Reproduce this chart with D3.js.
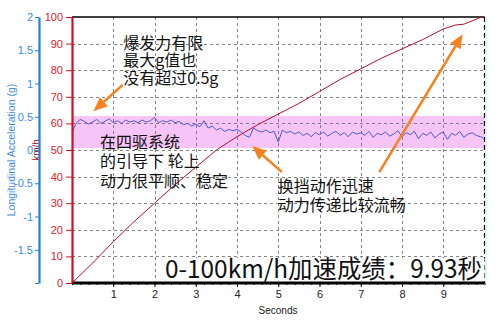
<!DOCTYPE html>
<html><head><meta charset="utf-8">
<script src="https://cdn.jsdelivr.net/npm/d3@7"></script>
<style>html,body{margin:0;padding:0;background:#fff;}svg{display:block;}</style>
</head><body>
<svg id="c" width="500" height="322"></svg>
<script>
// ---- data ----
const speedTime = [0, 0.5, 1.0, 1.5, 2.0, 2.5, 3.0, 3.5, 4.0, 4.5, 5.0, 5.5, 6.0, 6.5, 7.0, 7.5, 8.0, 8.5, 9.0, 9.3, 9.5, 9.93];
const speedKmh  = [0, 7.5, 15.5, 23, 30, 37, 43.5, 50, 55, 59.5, 63.5, 67.5, 72, 76.5, 80.5, 84.5, 88, 91.5, 95.5, 97, 97.3, 100];

const accelTime = [0,0.1,0.2,0.3,0.4,0.5,0.6,0.7,0.8,0.9,1.0,1.1,1.2,1.3,1.4,1.5,1.6,1.7,1.8,1.9,
  2.0,2.1,2.2,2.3,2.4,2.5,2.6,2.7,2.8,2.9,3.0,3.1,3.2,3.3,3.4,3.5,3.6,3.7,3.8,3.9,
  4.0,4.1,4.2,4.3,4.4,4.5,4.6,4.7,4.8,4.9,5.0,5.1,5.2,5.3,5.4,5.5,5.6,5.7,5.8,5.9,
  6.0,6.1,6.2,6.3,6.4,6.5,6.6,6.7,6.8,6.9,7.0,7.1,7.2,7.3,7.4,7.5,7.6,7.7,7.8,7.9,
  8.0,8.1,8.2,8.3,8.4,8.5,8.6,8.7,8.8,8.9,9.0,9.1,9.2,9.3,9.4,9.5,9.6,9.7,9.8,9.9,9.97];
const accelG = [
  0.27,0.40,0.46,0.43,0.39,0.42,0.46,0.40,0.43,0.47,
  0.41,0.44,0.40,0.45,0.42,0.44,0.41,0.45,0.42,0.44,
  0.49,0.41,0.44,0.42,0.45,0.41,0.43,0.38,0.40,0.36,
  0.39,0.35,0.44,0.33,0.36,0.30,0.33,0.28,0.31,0.29,
  0.31,0.27,0.22,0.19,0.33,0.29,0.27,0.30,0.26,0.28,
  0.12,0.30,0.26,0.28,0.24,0.27,0.22,0.25,0.20,0.26,
  0.23,0.27,0.21,0.25,0.28,0.22,0.26,0.20,0.27,0.24,
  0.26,0.22,0.28,0.19,0.25,0.23,0.27,0.21,0.24,0.29,
  0.20,0.26,0.23,0.28,0.17,0.25,0.22,0.27,0.18,0.24,
  0.27,0.16,0.25,0.22,0.28,0.19,0.24,0.26,0.22,0.20,0.18];

const xTicks = [1,2,3,4,5,6,7,8,9];
const kmhTicks = [0,10,20,30,40,50,60,70,80,90,100];
const gTicks = [-1.5,-1,-0.5,0,0.5,1,1.5,2];
const bandG = [0.03, 0.51];

const notes = [
  {lines:["爆发力有限","最大g值也","没有超过0.5g"], t:1.24, kmh:88.0, gap:17.5},
  {lines:["在四驱系统","的引导下 轮上","动力很平顺、稳定"], t:0.68, kmh:50.8, gap:19.5},
  {lines:["换挡动作迅速","动力传递比较流畅"], t:4.99, kmh:34.2, gap:19}
];
const arrows = [
  {from:[1.23, 74.5], to:[0.52, 64.6]},
  {from:[5.09, 41.7], to:[4.37, 51.5]},
  {from:[7.45, 41.7], to:[9.47, 93.5]}
];
const bigText = "0-100km/h加速成绩：9.93秒";

// ---- scales ----
const L = 72, R = 484.5, T = 17, B = 283;
const x = d3.scaleLinear().domain([0,10]).range([L,R]);
const yK = d3.scaleLinear().domain([0,100]).range([B,T]);
const yG = d3.scaleLinear().domain([-2,2]).range([B,T]);

const svg = d3.select("#c");
const latin = "'Liberation Sans', Arial, sans-serif";
const cjk = "'Noto Sans CJK SC', 'Noto Sans', sans-serif";

// band
svg.append("rect").attr("x",L).attr("width",R-L)
  .attr("y",yG(bandG[1])).attr("height",yG(bandG[0])-yG(bandG[1]))
  .attr("fill","#f7c4f7");

// grid
const grid = svg.append("g").attr("stroke","#6f6f6f").attr("stroke-opacity",0.85).attr("stroke-dasharray","3,3").attr("stroke-width",1);
xTicks.forEach(t=>grid.append("line").attr("x1",Math.round(x(t))+0.5).attr("x2",Math.round(x(t))+0.5).attr("y1",T).attr("y2",B));
kmhTicks.filter(v=>v>0&&v<100).forEach(v=>grid.append("line").attr("x1",L).attr("x2",R).attr("y1",Math.round(yK(v))+0.5).attr("y2",Math.round(yK(v))+0.5));

// borders
svg.append("line").attr("x1",L).attr("x2",R).attr("y1",T).attr("y2",T).attr("stroke","#000").attr("stroke-width",1.5);
svg.append("line").attr("x1",R).attr("x2",R).attr("y1",T).attr("y2",B).attr("stroke","#000").attr("stroke-width",1.2).attr("stroke-dasharray","5,3");
svg.append("line").attr("x1",R+1.5).attr("x2",R+1.5).attr("y1",T).attr("y2",B-3).attr("stroke","#bff0ee").attr("stroke-width",1);

// series
const lineA = d3.line().x((d,i)=>x(accelTime[i])).y(d=>yG(d));
svg.append("path").attr("d",lineA(accelG)).attr("fill","none").attr("stroke","#4a5ad2").attr("stroke-width",1);
const lineS = d3.line().x((d,i)=>x(speedTime[i])).y(d=>yK(d));
svg.append("path").attr("d",lineS(speedKmh)).attr("fill","none").attr("stroke","#b3102e").attr("stroke-width",1);

// big text with white box
const bt = svg.append("g");
const btRect = bt.append("rect").attr("fill","#fff");
const btText = bt.append("text").attr("x",165).attr("y",278).attr("font-family",cjk).attr("font-size",25)
  .attr("textLength",317).attr("lengthAdjust","spacingAndGlyphs").attr("fill","#111").text(bigText);
btRect.attr("x",162).attr("y",258).attr("width",R-162).attr("height",B-258-1.5);

// x axis
const xa = svg.append("g").attr("transform",`translate(0,${B})`);
xa.call(d3.axisBottom(x).tickValues(d3.range(0,10.01,0.2)).tickSize(2).tickFormat(""));
xa.call(g=>g.select(".domain").remove());
const xm = svg.append("g").attr("transform",`translate(0,${B})`)
  .call(d3.axisBottom(x).tickValues(xTicks).tickSize(4).tickFormat(d=>String(d)));
xm.select(".domain").remove();
xm.selectAll("text").attr("font-family",latin).attr("font-size",11).attr("fill","#222");
svg.append("line").attr("x1",L).attr("x2",R).attr("y1",B).attr("y2",B).attr("stroke","#000").attr("stroke-width",3);
svg.append("text").attr("x",278).attr("y",314).attr("text-anchor","middle").attr("font-family",latin).attr("font-size",10).attr("fill","#222").text("Seconds");

// red km/h axis
const ra = svg.append("g").attr("transform",`translate(${L},0)`);
ra.call(d3.axisLeft(yK).tickValues(d3.range(0,100.1,2)).tickSize(3).tickSizeOuter(0).tickFormat(""));
ra.call(d3.axisLeft(yK).tickValues(kmhTicks).tickSize(6).tickSizeOuter(0).tickFormat(d=>String(d)));
ra.selectAll("line").attr("stroke","#d01020");
ra.selectAll(".domain").attr("stroke","#d01020").attr("stroke-width",2.2);
ra.selectAll("text").attr("font-family",latin).attr("font-size",11).attr("fill","#e0202a");
svg.append("text").attr("transform","translate(40,150) rotate(-90)").attr("text-anchor","middle")
  .attr("font-family",latin).attr("font-size",10).attr("fill","#b01020").text("km/h");

// blue g axis
const ga = svg.append("g").attr("transform","translate(39,0)");
ga.call(d3.axisLeft(yG).tickValues(d3.range(-2,2.01,0.1)).tickSize(2).tickSizeOuter(0).tickFormat(""));
ga.call(d3.axisLeft(yG).tickValues([-2].concat(gTicks)).tickSize(4).tickSizeOuter(0).tickPadding(2).tickFormat(d=>d===-2?"":String(d)));
ga.selectAll("line").attr("stroke","#1f7fe0");
ga.selectAll(".domain").attr("stroke","#1f7fe0").attr("stroke-width",2.2);
ga.selectAll("text").attr("font-family",latin).attr("font-size",11).attr("fill","#3a8be0");
svg.append("text").attr("transform","translate(15,150) rotate(-90)").attr("text-anchor","middle")
  .attr("font-family",latin).attr("font-size",10.5).attr("fill","#3a8be0").text("Longitudinal Acceleration (g)");

// annotations
notes.forEach(n=>{
  n.lines.forEach((s,i)=>svg.append("text").attr("font-family",cjk).attr("font-size",16).attr("fill","#111")
    .attr("x",x(n.t)).attr("y",yK(n.kmh)+i*n.gap).text(s));
});

// arrows
const orange = "#f5821f";
arrows.forEach(a=>{
  const x1=x(a.from[0]), y1=yK(a.from[1]), x2=x(a.to[0]), y2=yK(a.to[1]);
  const ang = Math.atan2(y2-y1,x2-x1), hl=14, hw=6;
  const bx = x2-hl*Math.cos(ang), by = y2-hl*Math.sin(ang);
  svg.append("line").attr("x1",x1).attr("y1",y1).attr("x2",bx).attr("y2",by).attr("stroke",orange).attr("stroke-width",2.5);
  const p = [[x2,y2],[bx+hw*Math.sin(ang),by-hw*Math.cos(ang)],[bx-hw*Math.sin(ang),by+hw*Math.cos(ang)]];
  svg.append("polygon").attr("points",p.map(q=>q.join(",")).join(" ")).attr("fill",orange);
});
</script>
</body></html>
